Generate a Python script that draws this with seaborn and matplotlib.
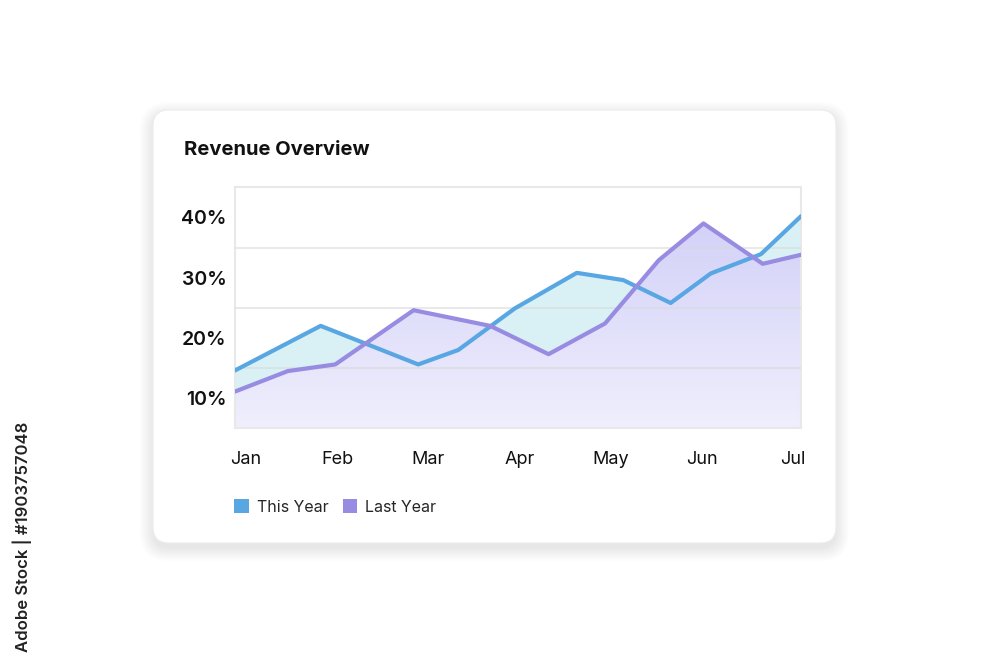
import numpy as np
import pandas as pd
import seaborn as sns
import matplotlib.pyplot as plt
from matplotlib.patches import FancyBboxPatch, Patch
from matplotlib.colors import LinearSegmentedColormap

# Daten
months = ['Jan', 'Feb', 'Mar', 'Apr', 'May', 'Jun', 'Jul']
this_x = [-0.12, 0.82, 1.89, 2.33, 2.95, 3.63, 4.14, 4.66, 5.10, 5.65, 6.09]
this_y = [14.6, 22.0, 15.6, 18.0, 24.9, 30.8, 29.6, 25.8, 30.7, 33.9, 40.2]
last_x = [-0.12, 0.46, 0.98, 1.84, 2.68, 3.32, 3.94, 4.53, 5.02, 5.67, 6.09]
last_y = [11.1, 14.5, 15.6, 24.6, 22.0, 17.3, 22.4, 32.9, 39.0, 32.3, 33.8]
y_ticks = [10, 20, 30, 40]
y_tick_labels = ['10%', '20%', '30%', '40%']
grid_vals = [15, 25, 35]
series_names = ['This Year', 'Last Year']

blue = '#58a6e2'
purple = '#978ce1'

df = pd.concat([
    pd.DataFrame({'x': this_x, 'y': this_y, 'series': 'This Year'}),
    pd.DataFrame({'x': last_x, 'y': last_y, 'series': 'Last Year'}),
], ignore_index=True)

sns.set_theme(style='white')
plt.rcParams['font.family'] = ['Inter', 'DejaVu Sans']

fig = plt.figure(figsize=(10, 6.67), dpi=100)

# Hintergrund / Karte mit Schatten
bg = fig.add_axes([0, 0, 1, 1], zorder=0)
bg.set_xlim(0, 1000)
bg.set_ylim(667, 0)
bg.axis('off')
for i in range(12):
    s = i * 1.2
    bg.add_patch(FancyBboxPatch((153 - s, 110 - s + 5), 683 + 2 * s, 433 + 2 * s,
                                boxstyle=f'round,pad=0,rounding_size={16 + s}',
                                facecolor='black', edgecolor='none', alpha=0.006))
bg.add_patch(FancyBboxPatch((153, 110), 683, 433, boxstyle='round,pad=0,rounding_size=16',
                            facecolor='white', edgecolor='#ececec', lw=0.8))

ax = fig.add_axes([0.235, 1 - 428.3 / 667, 0.566, (428.3 - 187.3) / 667], zorder=1)
ax.set_facecolor('white')
xmin, xmax = this_x[0], this_x[-1]
ymin, ymax = 5, 45

# Flaechen
ax.fill_between(this_x, this_y, ymin, color='#d9f1f5', lw=0, zorder=1)
poly = ax.fill_between(last_x, last_y, ymin, color='none', lw=0, zorder=2)
cmap = LinearSegmentedColormap.from_list('lav', ['#efeffd', '#cfccf7'])
grad = np.linspace(0, 1, 256).reshape(-1, 1)
img = ax.imshow(grad, cmap=cmap, origin='lower', aspect='auto',
                extent=[xmin, xmax, ymin, ymax], zorder=2)
img.set_clip_path(poly.get_paths()[0], transform=ax.transData)

for g in grid_vals:
    ax.axhline(g, color='#d8d8d8', lw=1.3, alpha=0.6, zorder=3)

sns.lineplot(data=df, x='x', y='y', hue='series', palette=[blue, purple],
             sort=False, legend=False, lw=3, ax=ax, zorder=4)

ax.set_xlim(xmin, xmax)
ax.set_ylim(ymin, ymax)
ax.set_xticks(range(len(months)))
ax.set_xticklabels(months, fontsize=13)
ax.set_yticks(y_ticks)
ax.set_yticklabels(y_tick_labels, fontsize=14, fontweight='semibold')
ax.tick_params(axis='x', length=0, pad=16, colors='#111111')
ax.tick_params(axis='y', length=0, pad=6, colors='#111111')
ax.set_xlabel('')
ax.set_ylabel('')
for sp in ax.spines.values():
    sp.set_color('#e8e8e8')
    sp.set_linewidth(1.5)

fig.text(0.184, 1 - 150 / 667, 'Revenue Overview', fontsize=14.5, fontweight='bold',
         va='center', color='#111111')

handles = [Patch(facecolor=blue, edgecolor='none'), Patch(facecolor=purple, edgecolor='none')]
fig.legend(handles, series_names, loc='center left', bbox_to_anchor=(0.22, 1 - 507 / 667),
           ncol=2, frameon=False, fontsize=11.5, handlelength=0.9, handleheight=0.9,
           handletextpad=0.5, columnspacing=0.9)

fig.text(0.022, 1 - 537 / 667, 'Adobe Stock | #1903757048', rotation=90, fontsize=12,
         fontweight='semibold', va='center', ha='center', color='#222222')

fig.savefig('out.png', dpi=100)
